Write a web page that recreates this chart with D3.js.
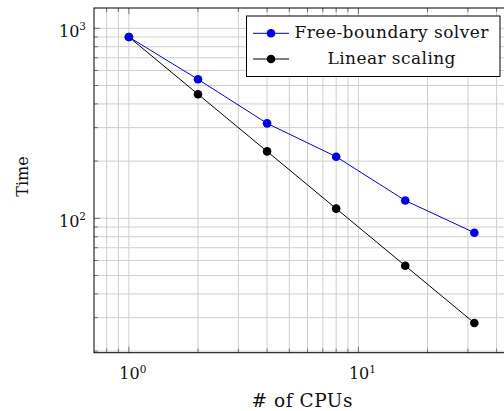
<!DOCTYPE html>
<html>
<head>
<meta charset="utf-8">
<script src="https://cdn.jsdelivr.net/npm/d3@7"></script>
<style>
  body { margin: 0; background: #fff; }
  svg text { font-family: "DejaVu Serif", "Liberation Serif", serif; fill: #111; }
</style>
</head>
<body>
<div id="chart"></div>
<script>
'use strict'

// the data
const cpus = [1, 2, 4, 8, 16, 32]
const solverTime = [900, 539, 316, 211, 124, 84]
const linearTime = [900, 450, 225, 112.5, 56.25, 28.125]
const seriesNames = ['Free-boundary solver', 'Linear scaling']
const xTickExps = [0, 1]
const yTickExps = [2, 3]
const xLabel = '# of CPUs'
const yLabel = 'Time'

const W = 504, H = 411
// plot box (right side runs past the window, like the original)
const box = { left: 94, right: 509, top: 8, bottom: 352.7 }

const x = d3.scaleLog().domain([0.7047, 45.3]).range([box.left, box.right])
const y = d3.scaleLog().domain([1279, 19.62]).range([box.top, box.bottom])

const svg = d3.select('#chart').append('svg')
    .attr('width', W)
    .attr('height', H)

const g = svg.append('g')

// grid, minor + major
const xGrid = [0.8, 0.9, 1, 2, 3, 4, 5, 6, 7, 8, 9, 10, 20, 30, 40]
const yGrid = [20, 30, 40, 50, 60, 70, 80, 90, 100, 200, 300, 400, 500, 600, 700, 800, 900, 1000]

g.append('g').selectAll('line').data(xGrid).join('line')
    .attr('x1', d => x(d)).attr('x2', d => x(d))
    .attr('y1', box.top).attr('y2', box.bottom)
    .attr('stroke', '#cfcfcf').attr('stroke-width', 1)
g.append('g').selectAll('line').data(yGrid).join('line')
    .attr('x1', box.left).attr('x2', box.right)
    .attr('y1', d => y(d)).attr('y2', d => y(d))
    .attr('stroke', '#cfcfcf').attr('stroke-width', 1)

// tick marks, inward
const isMajor = d => Math.abs(Math.log10(d) - Math.round(Math.log10(d))) < 1e-9
g.append('g').selectAll('line').data(yGrid).join('line')
    .attr('x1', box.left).attr('x2', d => box.left + (isMajor(d) ? 6 : 4))
    .attr('y1', d => y(d)).attr('y2', d => y(d))
    .attr('stroke', '#555').attr('stroke-width', 0.8)
g.append('g').selectAll('line').data(xGrid).join('line')
    .attr('x1', d => x(d)).attr('x2', d => x(d))
    .attr('y1', box.bottom).attr('y2', d => box.bottom - (isMajor(d) ? 6 : 4))
    .attr('stroke', '#555').attr('stroke-width', 0.8)
g.append('g').selectAll('line').data(xGrid).join('line')
    .attr('x1', d => x(d)).attr('x2', d => x(d))
    .attr('y1', box.top).attr('y2', d => box.top + (isMajor(d) ? 6 : 4))
    .attr('stroke', '#555').attr('stroke-width', 0.8)

// frame
g.append('rect')
    .attr('x', box.left).attr('y', box.top)
    .attr('width', box.right - box.left).attr('height', box.bottom - box.top)
    .attr('fill', 'none').attr('stroke', '#000').attr('stroke-width', 1)

// tick labels
const xt = g.append('g').selectAll('text').data(xTickExps).join('text')
    .attr('x', d => x(Math.pow(10, d)) + 4)
    .attr('y', 379)
    .attr('text-anchor', 'middle')
    .attr('font-size', 16)
xt.append('tspan').text('10')
xt.append('tspan').attr('dy', -6.5).attr('font-size', 10.5).text(d => d)

const yt = g.append('g').selectAll('text').data(yTickExps).join('text')
    .attr('x', 86)
    .attr('y', d => y(Math.pow(10, d)) + 8.4)
    .attr('text-anchor', 'end')
    .attr('font-size', 16)
yt.append('tspan').text('10')
yt.append('tspan').attr('dy', -6.5).attr('font-size', 10.5).text(d => d)

// axis labels
g.append('text')
    .attr('x', 302).attr('y', 407)
    .attr('text-anchor', 'middle').attr('font-size', 18.5)
    .attr('textLength', 101).attr('lengthAdjust', 'spacing')
    .text(xLabel)
g.append('text')
    .attr('transform', `translate(27.5,176.5) rotate(-90)`)
    .attr('text-anchor', 'middle').attr('font-size', 16)
    .text(yLabel)

// the lines
const colors = ['#0000e6', '#000']
const allSeries = [solverTime, linearTime]
const line = d3.line()
    .x((d, i) => x(cpus[i]))
    .y(d => y(d))

allSeries.forEach((s, k) => {
    g.append('path')
        .datum(s)
        .attr('fill', 'none')
        .attr('stroke', colors[k])
        .attr('stroke-width', 1)
        .attr('d', line)
})
allSeries.slice().reverse().forEach((s, kk) => {
    let k = allSeries.length - 1 - kk
    g.append('g').selectAll('circle').data(s).join('circle')
        .attr('cx', (d, i) => x(cpus[i]))
        .attr('cy', d => y(d))
        .attr('r', 4.3)
        .attr('fill', colors[k])
})

// legend
const legendRows = [33.3, 59]
const legendWidths = [194, 128]
const lg = g.append('g')
lg.append('rect')
    .attr('x', 246.5).attr('y', 16).attr('width', 253.5).attr('height', 60.5)
    .attr('fill', '#fff').attr('stroke', '#000').attr('stroke-width', 1)
seriesNames.forEach((name, k) => {
    let ly = legendRows[k]
    lg.append('line')
        .attr('x1', 253).attr('x2', 289).attr('y1', ly).attr('y2', ly)
        .attr('stroke', colors[k]).attr('stroke-width', 1)
    lg.append('circle')
        .attr('cx', 271).attr('cy', ly).attr('r', 4.3).attr('fill', colors[k])
    lg.append('text')
        .attr('x', 391.5).attr('y', ly + 5)
        .attr('text-anchor', 'middle').attr('font-size', 17)
        .attr('textLength', legendWidths[k]).attr('lengthAdjust', 'spacing')
        .text(name)
})
</script>
</body>
</html>
